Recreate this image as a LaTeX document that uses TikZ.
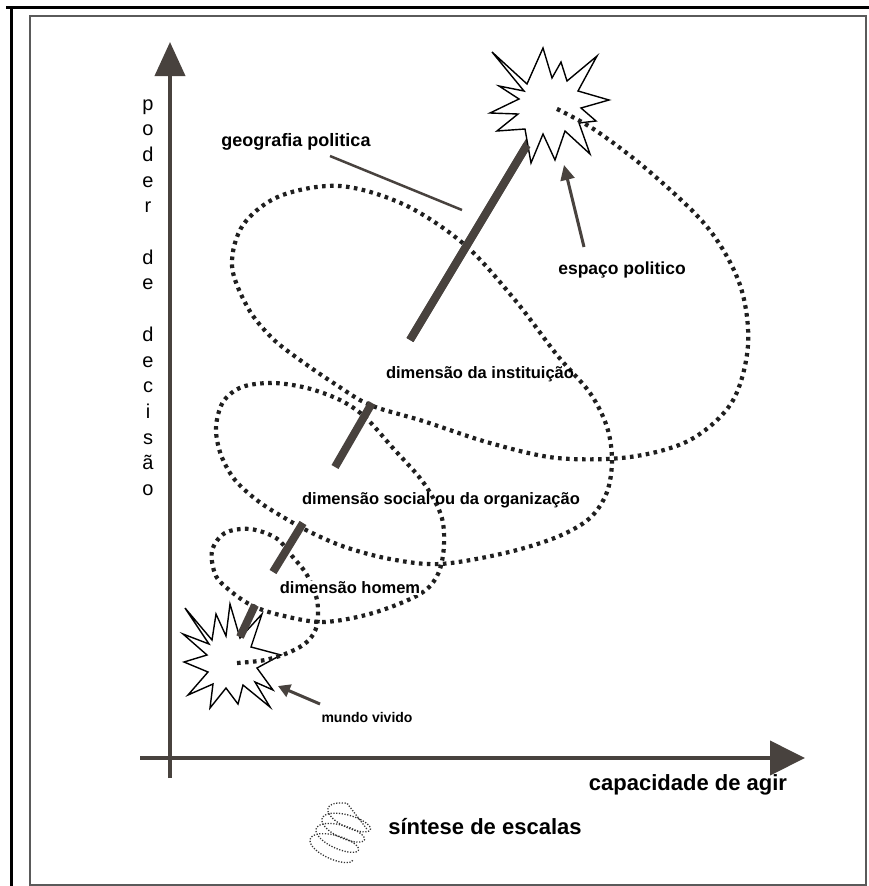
\documentclass[tikz,border=0pt]{standalone}
\usepackage{fontspec}
\setmainfont{Liberation Sans}
\usetikzlibrary{arrows.meta}
\definecolor{axisc}{RGB}{72,66,62}
\definecolor{framegray}{RGB}{90,90,90}
\begin{document}
\begin{tikzpicture}[x=1pt,y=-1pt,
  lbl/.style={font=\bfseries\fontsize{16.5}{18}\selectfont, inner sep=0pt},
  axislbl/.style={font=\fontsize{20}{22}\selectfont, inner sep=0pt, anchor=base},
  axisline/.style={draw=axisc, line width=4pt},
  bar/.style={draw=axisc, line width=8pt},
  dots/.style={draw=black!88, line width=4.2pt, dash pattern=on 3.6pt off 4.4pt},
  icondots/.style={draw=black!80, line width=1.3pt, dash pattern=on 1.2pt off 1.6pt},
  starshape/.style={draw=black, fill=white, line width=1.4pt, line join=miter},
  pointer/.style={draw=axisc, line width=3pt, -{Triangle[length=15pt,width=14pt]}},
]
\useasboundingbox (0,0) rectangle (869,886);
\fill[white] (0,0) rectangle (869,886);
% frames
\draw[line width=3pt] (6,7) -- (869,7);
\draw[line width=3pt] (11,7) -- (11,886);
\draw[framegray, line width=2pt] (30,16) rectangle (866,885);

% axes
\coordinate (ytop) at (170,42);
\coordinate (ybot) at (170,778);
\coordinate (xleft) at (140,758);
\coordinate (xright) at (805,758);
\draw[axisline, -{Triangle[length=34pt,width=30pt]}] (ybot) -- (ytop);
\draw[axisline, -{Triangle[length=35pt,width=34pt]}] (xleft) -- (xright);

% vertical axis label
\foreach \ch [count=\i] in {p,o,d,e,r,{},d,e,{},d,e,c,i,s,ã,o}
  \node[axislbl] (v\i) at (148,{110+(\i-1)*25.7}) {\ch};

% bottom star
\draw[starshape] (185,608) -- (212,640) -- (216,614) -- (226,636) -- (230,604) -- (240,638)
  -- (262,614) -- (251,647) -- (281,655) -- (257,668) -- (273,690) -- (255,682)
  -- (270,707) -- (243,685) -- (238,704) -- (226,688) -- (210,708) -- (213,684)
  -- (188,695) -- (208,672) -- (184,662) -- (207,655) -- (183,634) -- (209,644) -- cycle;

% central bar: coordinates
\coordinate (b1s) at (240,637); \coordinate (b1e) at (255,605);
\coordinate (b2s) at (273,572); \coordinate (b2e) at (303,523);
\coordinate (b3s) at (335,467); \coordinate (b3e) at (372,403);
\coordinate (b4s) at (410,340); \coordinate (b4e) at (545,115);
\coordinate (b4m) at (527,145);
% upper part of the bar goes under the upper star
\draw[bar] (b4s) -- (b4e);

% top star
\draw[starshape] (492,52) -- (527,84) -- (543,48) -- (552,78) -- (561,62) -- (567,81)
  -- (597,56) -- (578,91) -- (609,100) -- (581,108) -- (596,121) -- (579,123)
  -- (590,154) -- (565,131) -- (555,160) -- (543,134) -- (531,163) -- (525,129)
  -- (497,131) -- (518,114) -- (490,113) -- (519,99) -- (499,86) -- (524,91) -- cycle;

% spiral (one continuous dotted line from the lower star to the upper star)
\coordinate (sB) at (237,663);
\coordinate (sT) at (553,107);
\draw[dots] plot[smooth, tension=0.55] coordinates {
  (237,663) (265,660) (290,652) (308,641) (317,625) (317,600) (307,575) (292,556)
  (276,538) (250,529) (225,533) (212,551) (216,576) (233,593) (253,606) (280,615)
  (323,622) (373,613) (420,594) (438,574) (444,545) (441,515) (423,482) (392,447)
  (365,417) (340,400) (307,388) (273,383) (242,387) (223,402) (216,428) (221,455)
  (235,480) (258,501) (283,517) (310,532) (345,547) (390,559) (440,564) (505,553)
  (557,537) (590,518) (607,492) (612,460) (607,427) (590,393) (557,355) (515,300)
  (465,245) (405,205) (340,186) (280,196) (243,225) (232,266) (248,308) (272,338)
  (300,360) (335,384) (370,405) (423,421) (490,443) (557,458) (630,457) (690,440)
  (732,402) (748,345) (740,285) (708,228) (650,172) (595,130) (553,107)};

% visible bar pieces in front of the spiral's hidden parts
\draw[bar] (b1s) -- (b1e);
\draw[bar] (b2s) -- (b2e);
\draw[bar] (b3s) -- (b3e);
\draw[bar] (b4s) -- (b4m);

% labels
\node[lbl, font=\bfseries\fontsize{18}{20}\selectfont] (geo) at (296,142) {geografia politica};
\coordinate (geoA) at (330,156);
\coordinate (geoB) at (462,210);
\draw[draw=axisc, line width=2.5pt] (geoA) -- (geoB);
\node[lbl, font=\bfseries\fontsize{17.5}{19}\selectfont] (esp) at (622,270) {espaço politico};
\coordinate (espA) at (584,247);
\coordinate (espB) at (564,165);
\draw[pointer] (espA) -- (espB);
\node[lbl] (inst) at (480,374) {dimensão da instituição};
\node[lbl] (soc) at (441,500) {dimensão social ou da organização};
\node[lbl, fill=white, inner sep=1pt] (hom) at (350,588) {dimensão homem};
\node[lbl, font=\bfseries\fontsize{14}{16}\selectfont] (mundo) at (367,717) {mundo vivido};
\coordinate (mA) at (320,704);
\coordinate (mB) at (278,686);
\draw[pointer, -{Triangle[length=12pt,width=13pt]}] (mA) -- (mB);
\node[lbl, font=\bfseries\fontsize{22}{24}\selectfont] (cap) at (688,785) {capacidade de agir};
\node[lbl, font=\bfseries\fontsize{22}{24}\selectfont] (sint) at (485,827) {síntese de escalas};
% icon spiral (small coil with a tail)
\draw[icondots] plot[domain=0:1330, samples=260, variable=\t]
  ({330 + 0.0165*\t + 24*cos(\t)*cos(20) - 9*sin(\t)*sin(20)},
   {852 - 0.0285*\t + 24*cos(\t)*sin(20) + 9*sin(\t)*cos(20)})
  -- ++(20,26);
\end{tikzpicture}
\end{document}
